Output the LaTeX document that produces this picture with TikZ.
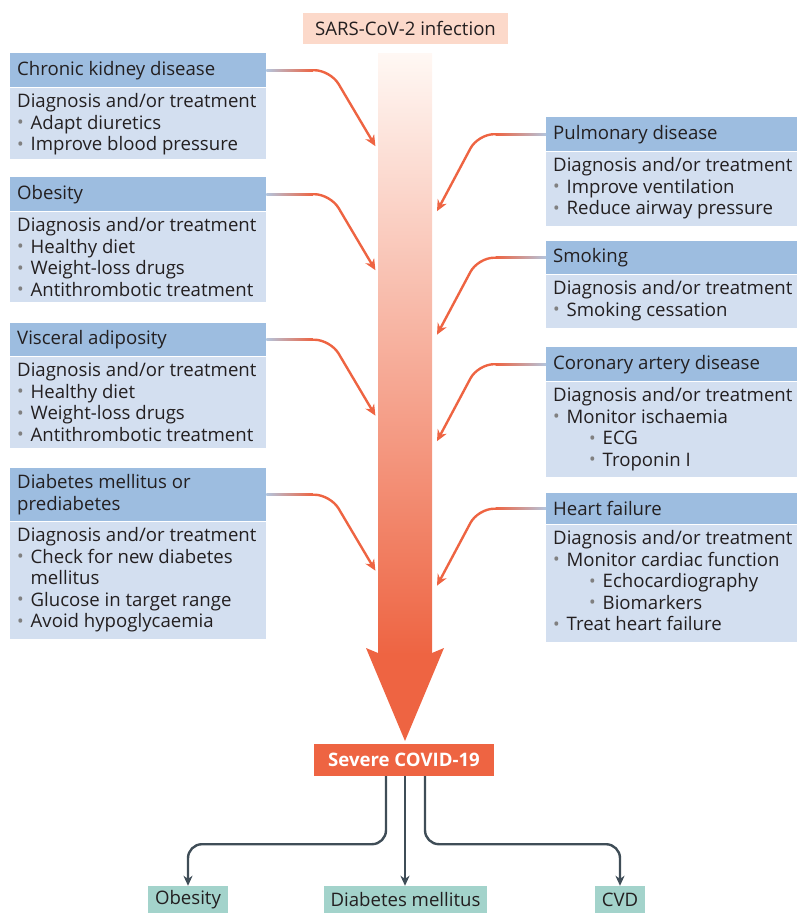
\documentclass[tikz,border=0pt]{standalone}
\usepackage{fontspec}
\setmainfont{Open Sans}
\usetikzlibrary{arrows.meta}
\definecolor{hdr}{HTML}{9DBDE0}
\definecolor{bdy}{HTML}{D3DFF0}
\definecolor{txt}{HTML}{231F20}
\definecolor{bulc}{HTML}{808080}
\definecolor{org}{HTML}{EE6442}
\definecolor{lineblue}{HTML}{B3C5DD}
\definecolor{sars}{HTML}{FCD9CA}
\definecolor{tealbox}{HTML}{A3D3CB}
\definecolor{dark}{HTML}{3F4D57}
\definecolor{shtop}{HTML}{FFF8F4}
\definecolor{shmid}{HTML}{F8BBA0}
\newcommand{\fs}{\fontsize{18.6}{21.5}\selectfont}
\newcommand{\bu}{\makebox[13.5pt][l]{\textcolor{bulc}{\raisebox{0.3pt}{\scalebox{0.95}{\textbullet}}}}}
\newcommand{\subbu}{\hspace*{36pt}\bu}
\newcommand{\riskbox}[8]{%
  \node[hdrbox, minimum width=#6, minimum height=#4] (#1h) at (#2,#3) {};
  \node[txtnode, anchor=west] (#1ht) at ([xshift=7pt]#1h.west) {#7};
  \node[bdybox, minimum width=#6, minimum height=#5] (#1b) at (#1h.south west) {};
  \node[txtnode, anchor=north west] (#1bt) at ([xshift=7pt,yshift=-6pt]#1b.north west) {#8};
}
\newcommand{\lconn}[1]{%
  \coordinate (#1f) at ([xshift=46pt]#1h.east);
  \coordinate (#1c) at ([xshift=64pt]#1h.east);
  \coordinate (#1e) at ([xshift=109pt,yshift=-76pt]#1h.east);
  \draw[conn] (#1f) -- (#1c) -- (#1e);
  \shade[left color=lineblue, right color=org] ([yshift=1.2pt]#1h.east) rectangle ([yshift=-1.2pt,xshift=0.5pt]#1f);
}
\newcommand{\rconn}[1]{%
  \coordinate (#1f) at ([xshift=-50pt]#1h.west);
  \coordinate (#1c) at ([xshift=-68pt]#1h.west);
  \coordinate (#1e) at ([xshift=-109pt,yshift=-77pt]#1h.west);
  \draw[conn] (#1f) -- (#1c) -- (#1e);
  \shade[left color=org, right color=lineblue] ([yshift=1.2pt,xshift=-0.5pt]#1f) rectangle ([yshift=-1.2pt]#1h.west);
}
\tikzset{
  hdrbox/.style={fill=hdr, inner sep=0pt, anchor=north west},
  bdybox/.style={fill=bdy, inner sep=0pt, anchor=north west},
  txtnode/.style={font=\fs, text=txt, inner sep=0pt, align=left},
  conn/.style={draw=org, line width=2.4pt, rounded corners=16pt, -{Stealth[length=11pt,width=10pt,inset=3.5pt]}},
  dk/.style={draw=dark, line width=2.4pt, rounded corners=14pt, -{Stealth[length=10pt,width=9pt,inset=3pt]}},
  smallbox/.style={fill=tealbox, font=\fs, text=txt, minimum height=27pt, inner xsep=7pt, inner ysep=0pt}
}
\begin{document}
\begin{tikzpicture}[x=1pt,y=-1pt]
\useasboundingbox (0,0) rectangle (797,914);
% big arrow
\shade[top color=shtop, middle color=shmid, bottom color=org] (378,53) rectangle (432,656);
\fill[org] (378,653) -- (366,648) -- (405,741) -- (444,648) -- (432,653) -- cycle;
\node[fill=sars, minimum width=205pt, minimum height=31pt, inner sep=0pt, font=\fs, text=txt] (sars) at (405.5,28.5) {SARS-CoV-2 infection};
\node[fill=org, minimum width=180pt, minimum height=32pt, inner sep=0pt, font=\fs\bfseries, text=white] (severe) at (404,760) {Severe COVID-19};
% left boxes
\riskbox{ckd}{10}{53}{34pt}{71pt}{256pt}{Chronic kidney disease}{Diagnosis and/or treatment\\ \bu Adapt diuretics\\ \bu Improve blood pressure}
\riskbox{obe}{10}{177}{34pt}{90pt}{256pt}{Obesity}{Diagnosis and/or treatment\\ \bu Healthy diet\\ \bu Weight-loss drugs\\ \bu Antithrombotic treatment}
\riskbox{vis}{10}{323}{33pt}{91pt}{256pt}{Visceral adiposity}{Diagnosis and/or treatment\\ \bu Healthy diet\\ \bu Weight-loss drugs\\ \bu Antithrombotic treatment}
\riskbox{dia}{10}{468}{53pt}{117pt}{256pt}{Diabetes mellitus or\\ prediabetes}{Diagnosis and/or treatment\\ \bu Check for new diabetes\\ \hspace*{13.5pt}mellitus\\ \bu Glucose in target range\\ \bu Avoid hypoglycaemia}
% right boxes
\riskbox{pul}{546}{117}{34pt}{74pt}{251pt}{Pulmonary disease}{Diagnosis and/or treatment\\ \bu Improve ventilation\\ \bu Reduce airway pressure}
\riskbox{smo}{546}{241}{33pt}{53pt}{251pt}{Smoking}{Diagnosis and/or treatment\\ \bu Smoking cessation}
\riskbox{cor}{546}{347}{34pt}{95pt}{251pt}{Coronary artery disease}{Diagnosis and/or treatment\\ \bu Monitor ischaemia\\ \subbu ECG\\ \subbu Troponin I}
\riskbox{hea}{546}{493}{31pt}{117pt}{251pt}{Heart failure}{Diagnosis and/or treatment\\ \bu Monitor cardiac function\\ \subbu Echocardiography\\ \subbu Biomarkers\\ \bu Treat heart failure}
% connectors
\lconn{ckd}\lconn{obe}\lconn{vis}\lconn{dia}
\rconn{pul}\rconn{smo}\rconn{cor}\rconn{hea}
% bottom
\node[smallbox] (ob) at (188,899.5) {Obesity};
\node[smallbox] (dm) at (405.5,899.5) {Diabetes mellitus};
\node[smallbox] (cvd) at (620,899.5) {CVD};
\draw[dk] ([xshift=-18pt]severe.south) -- ([xshift=-18pt,yshift=-68pt]severe.south) -| (ob.north);
\draw[dk] ([xshift=1pt]severe.south) -- ([xshift=1pt]severe.south |- dm.north);
\draw[dk] ([xshift=21pt]severe.south) -- ([xshift=21pt,yshift=-68pt]severe.south) -| (cvd.north);
\end{tikzpicture}
\end{document}
